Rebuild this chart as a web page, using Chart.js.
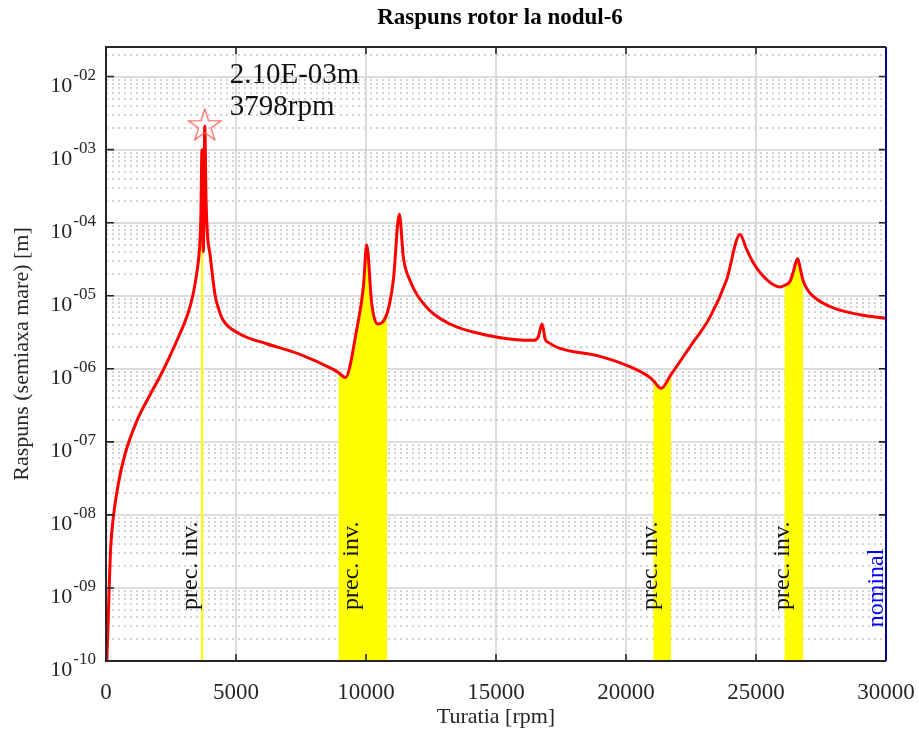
<!DOCTYPE html>
<html>
<head>
<meta charset="utf-8">
<script src="https://cdn.jsdelivr.net/npm/chart.js@4.4.0/dist/chart.umd.min.js"></script>
<style>
  html, body { margin: 0; padding: 0; background: #fff; }
  #wrap { width: 919px; height: 733px; position: relative; }
</style>
</head>
<body>
<div id="wrap"><canvas id="chart"></canvas></div>
<script>
// --- data ---
const rpm = [
  30, 77, 115, 180, 280, 470, 730, 1180, 1690, 2080, 2400, 2720, 3170, 3350, 3490, 3615,
  3650, 3690, 3745, 3798, 3850, 3900, 4000, 4190, 4330, 4510, 5150, 6180, 7460, 8740,
  8935, 9210, 9640, 9900, 10027, 10220, 10435, 10820, 11050, 11282, 11440, 11690,
  12340, 13230, 14510, 15800, 16430, 16620, 16770, 16900, 17010, 17460, 19000,
  20280, 20920, 21050, 21350, 21730, 22460, 23230, 23870, 24385, 24640, 24900,
  25410, 25920, 26090, 26310, 26440, 26590, 26760, 26820, 26950, 27200, 27970,
  29000, 30000
];
const response = [
  1.0e-10, 2.95e-10, 8.3e-10, 3.55e-9, 9.1e-9, 2.63e-8, 6.76e-8, 1.91e-7, 4.37e-7, 7.9e-7, 1.35e-6, 2.4e-6, 6.0e-6, 1.05e-5, 2.04e-5, 5.6e-5,
  1.26e-4, 1.0e-3, 4.0e-5, 2.1e-3, 2.0e-4, 7.1e-5, 3.7e-5, 1.05e-5, 6.6e-6, 4.6e-6, 3.0e-6, 2.2e-6, 1.58e-6, 9.8e-7,
  8.9e-7, 7.6e-7, 3.4e-6, 1.32e-5, 5.0e-5, 7.8e-6, 4.1e-6, 5.9e-6, 1.62e-5, 1.3e-4, 3.3e-5, 1.62e-5,
  6.9e-6, 4.1e-6, 2.95e-6, 2.5e-6, 2.45e-6, 2.7e-6, 4.1e-6, 2.5e-6, 2.3e-6, 1.9e-6, 1.48e-6,
  1.02e-6, 7.6e-7, 6.9e-7, 5.4e-7, 8.3e-7, 2.0e-6, 5.1e-6, 1.66e-5, 6.9e-5, 4.3e-5, 2.8e-5,
  1.66e-5, 1.32e-5, 1.38e-5, 1.58e-5, 2.14e-5, 3.2e-5, 1.9e-5, 1.58e-5, 1.26e-5, 9.8e-6, 6.8e-6,
  5.5e-6, 4.9e-6
];
// backward-whirl ("prec. inv.") speed ranges, rpm
const bands = [[3650, 3745], [8935, 10820], [21050, 21730], [26090, 26820]];
const peakRpm = 3798;
const peakValue = 2.10e-3;
const nominalRpm = 30000;
const xTicks = [0, 5000, 10000, 15000, 20000, 25000, 30000];
const decades = [-10, -9, -8, -7, -6, -5, -4, -3, -2];
const yMin = 1e-10, yMax = 2.54e-2;

const points = rpm.map((r, i) => ({ x: r, y: response[i] }));

// hollow pentagram marker
function makeStar(r) {
  const c = document.createElement('canvas');
  const s = Math.ceil(r * 2 + 4);
  c.width = s; c.height = s;
  const g = c.getContext('2d');
  g.strokeStyle = '#ff5a5a';
  g.lineWidth = 1.2;
  g.beginPath();
  for (let k = 0; k < 10; k++) {
    const rad = k % 2 === 0 ? r : r * 0.382;
    const ang = -Math.PI / 2 + k * Math.PI / 5;
    const px = s / 2 + rad * Math.cos(ang), py = s / 2 + rad * Math.sin(ang);
    k === 0 ? g.moveTo(px, py) : g.lineTo(px, py);
  }
  g.closePath();
  g.stroke();
  return c;
}

const SERIF = '"Liberation Serif", "Times New Roman", serif';
const INK = '#262626';

const bandSets = bands.map(([a, b]) => ({
  data: points.filter(p => p.x >= a && p.x <= b),
  borderWidth: 0,
  backgroundColor: '#ffff00',
  fill: 'start',
  pointRadius: 0,
  cubicInterpolationMode: 'monotone',
  order: 2
}));

const frame = {
  id: 'frame',
  beforeDatasetsDraw(chart) {
    const { ctx, chartArea: a, scales: { x, y } } = chart;
    ctx.save();
    ctx.beginPath();
    ctx.rect(a.left, a.top, a.right - a.left, a.bottom - a.top);
    ctx.clip();
    // minor dotted grid
    ctx.strokeStyle = '#c4c4c4';
    ctx.lineWidth = 1.5;
    ctx.setLineDash([2, 4]);
    decades.forEach(d => {
      for (let m = 2; m <= 9; m++) {
        const v = m * Math.pow(10, d);
        if (v > y.max) break;
        const py = Math.round(y.getPixelForValue(v));
        ctx.beginPath(); ctx.moveTo(a.left, py); ctx.lineTo(a.right, py); ctx.stroke();
      }
    });
    // major grid
    ctx.setLineDash([]);
    ctx.strokeStyle = '#d2d2d2';
    ctx.lineWidth = 1.6;
    decades.forEach(d => {
      const py = Math.round(y.getPixelForValue(Math.pow(10, d)));
      ctx.beginPath(); ctx.moveTo(a.left, py); ctx.lineTo(a.right, py); ctx.stroke();
    });
    xTicks.forEach(t => {
      const px = Math.round(x.getPixelForValue(t));
      ctx.beginPath(); ctx.moveTo(px, a.top); ctx.lineTo(px, a.bottom); ctx.stroke();
    });
    ctx.restore();
  },
  afterDatasetsDraw(chart) {
    const { ctx, chartArea: a, scales: { x, y } } = chart;
    ctx.save();
    // axes box and inward ticks
    ctx.strokeStyle = INK;
    ctx.lineWidth = 2;
    ctx.beginPath();
    ctx.moveTo(a.right, a.top); ctx.lineTo(a.left, a.top);
    ctx.lineTo(a.left, a.bottom); ctx.lineTo(a.right, a.bottom);
    ctx.stroke();
    ctx.lineWidth = 1.6;
    decades.forEach(d => {
      const py = y.getPixelForValue(Math.pow(10, d));
      ctx.beginPath();
      ctx.moveTo(a.left, py); ctx.lineTo(a.left + 8, py);
      ctx.moveTo(a.right, py); ctx.lineTo(a.right - 7, py);
      ctx.stroke();
    });
    xTicks.forEach(t => {
      const px = x.getPixelForValue(t);
      ctx.beginPath();
      ctx.moveTo(px, a.bottom); ctx.lineTo(px, a.bottom - 7);
      ctx.moveTo(px, a.top); ctx.lineTo(px, a.top + 7);
      ctx.stroke();
    });
    // nominal speed line
    const nx = x.getPixelForValue(nominalRpm);
    ctx.strokeStyle = '#00008f';
    ctx.lineWidth = 2;
    ctx.beginPath(); ctx.moveTo(nx, a.top); ctx.lineTo(nx, a.bottom); ctx.stroke();

    // rotated labels
    ctx.textAlign = 'left';
    ctx.textBaseline = 'alphabetic';
    ctx.font = '24px ' + SERIF;
    ctx.fillStyle = '#111';
    const labelY = y.getPixelForValue(5e-10);
    bands.forEach(([b0, b1]) => {
      const cx = x.getPixelForValue((b0 + b1) / 2) - 5;
      ctx.save();
      ctx.translate(cx, labelY);
      ctx.rotate(-Math.PI / 2);
      ctx.fillText('prec. inv.', 0, 0);
      ctx.restore();
    });
    ctx.fillStyle = '#0000ff';
    ctx.save();
    ctx.translate(nx - 3, y.getPixelForValue(2.9e-10));
    ctx.rotate(-Math.PI / 2);
    ctx.fillText('nominal', 0, 0);
    ctx.restore();

    // peak annotation
    const sx = x.getPixelForValue(peakRpm), sy = y.getPixelForValue(peakValue);
    ctx.fillStyle = '#111';
    ctx.font = '29px ' + SERIF;
    ctx.fillText(peakValue.toExponential(2).toUpperCase().replace('E-', 'E-0') + 'm', sx + 25, sy - 43);
    ctx.fillText(peakRpm + 'rpm', sx + 25, sy - 11);
    ctx.restore();
  },
  afterDraw(chart) {
    const { ctx, scales: { y } } = chart;
    ctx.save();
    ctx.fillStyle = INK;
    ctx.textBaseline = 'alphabetic';
    // y tick labels with superscript exponents
    decades.forEach(d => {
      const py = y.getPixelForValue(Math.pow(10, d));
      const sup = '-' + String(Math.abs(d)).padStart(2, '0');
      ctx.font = '17px ' + SERIF;
      const sw = ctx.measureText(sup).width;
      ctx.textAlign = 'right';
      ctx.fillText(sup, 96, py + 3);
      ctx.font = '22px ' + SERIF;
      ctx.fillText('10', 96 - sw - 1, py + 15);
    });
    // title
    ctx.font = 'bold 23px ' + SERIF;
    ctx.textAlign = 'center';
    ctx.fillStyle = '#000';
    ctx.fillText('Raspuns rotor la nodul-6', 500, 24);
    ctx.restore();
  }
};

new Chart(document.getElementById('chart'), {
  type: 'line',
  data: {
    datasets: [
      {
        data: [{ x: peakRpm, y: peakValue }],
        showLine: false,
        pointStyle: makeStar(17),
        pointRadius: 17,
        order: 0
      },
      {
        data: points,
        borderColor: '#ff0000',
        borderWidth: 3,
        pointRadius: 0,
        fill: false,
        cubicInterpolationMode: 'monotone',
        order: 1
      },
      ...bandSets
    ]
  },
  options: {
    responsive: true,
    maintainAspectRatio: false,
    animation: false,
    layout: { padding: { left: 0, right: 33, top: 47, bottom: 0 } },
    plugins: { legend: { display: false }, tooltip: { enabled: false } },
    scales: {
      x: {
        type: 'linear',
        min: 0, max: 30000,
        afterBuildTicks: s => { s.ticks = xTicks.map(v => ({ value: v })); },
        afterFit: s => { s.height = 72; s.paddingLeft = 0; s.paddingRight = 0; },
        grid: { display: false },
        border: { display: false },
        ticks: {
          maxRotation: 0,
          autoSkip: false,
          padding: 10,
          color: INK,
          font: { family: SERIF, size: 23 },
          callback: v => String(v)
        },
        title: {
          display: true,
          text: 'Turatia [rpm]',
          color: INK,
          font: { family: SERIF, size: 22 },
          padding: { top: 0, bottom: 3 }
        }
      },
      y: {
        type: 'logarithmic',
        min: yMin, max: yMax,
        afterFit: s => { s.width = 106; s.paddingTop = 0; s.paddingBottom = 0; },
        grid: { display: false },
        border: { display: false },
        ticks: { display: false },
        title: {
          display: true,
          text: 'Raspuns (semiaxa mare) [m]',
          color: INK,
          font: { family: SERIF, size: 22 },
          padding: { top: 9, bottom: 0 }
        }
      }
    }
  },
  plugins: [frame]
});
</script>
</body>
</html>
